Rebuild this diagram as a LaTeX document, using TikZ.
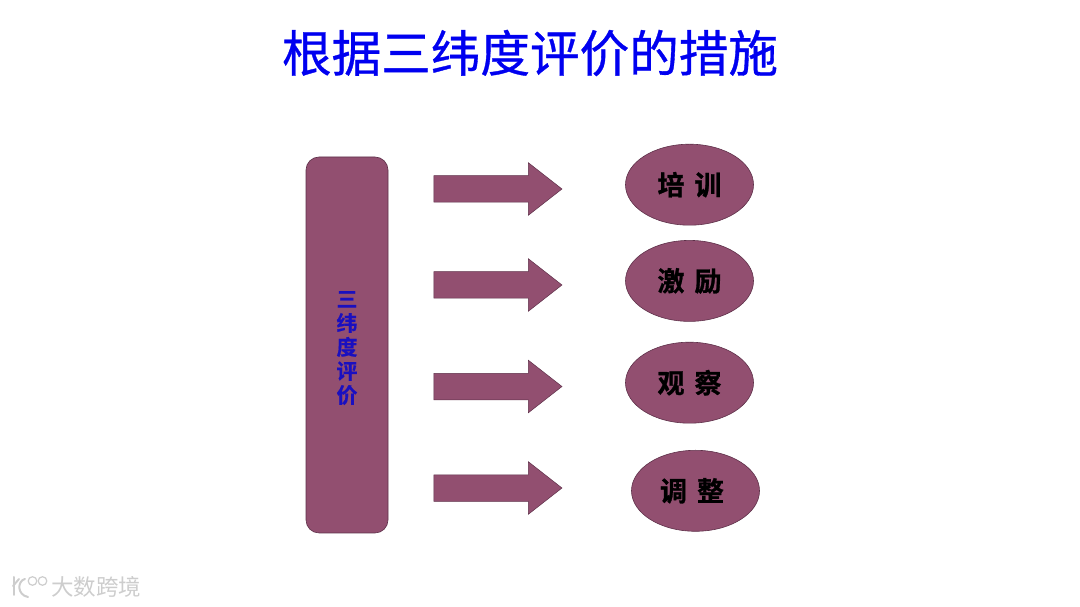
\documentclass[tikz,border=0pt]{standalone}
\usepackage{fontspec}
\setmainfont{Noto Sans CJK SC}[BoldFont={Noto Sans CJK SC Bold}]
\newfontfamily\heavycjk{Noto Sans CJK SC Bold}[FakeBold=0.5]
\newfontfamily\blackcjk{Noto Sans CJK SC Bold}[FakeBold=1]
\newfontfamily\titlecjk{Noto Sans CJK SC}[FakeBold=0.7]
\usetikzlibrary{arrows.meta,positioning,shapes.arrows,shapes.geometric}
\definecolor{plum}{HTML}{924F70}
\definecolor{plumedge}{HTML}{5E3049}
\definecolor{titleblue}{HTML}{0000F0}
\definecolor{sideblue}{HTML}{1A0FC0}
\definecolor{markgray}{HTML}{CDCDCD}
\begin{document}
\begin{tikzpicture}[
    x=1pt, y=1pt,
    sidebox/.style={draw=plumedge, fill=plum, rounded corners=13pt, line width=0.6pt, minimum width=82pt, minimum height=376pt, inner sep=0pt, align=center, text=sideblue, font=\fontsize{21}{24}\selectfont\heavycjk},
    blockarrow/.style={single arrow, draw=plumedge, fill=plum, line width=0.5pt, inner sep=0pt, minimum height=128pt, single arrow head extend=13pt, shape border rotate=0, single arrow tip angle=76, single arrow head indent=0pt},
    blob/.style={ellipse, draw=plumedge, fill=plum, line width=0.6pt, minimum width=128pt, minimum height=81pt, inner sep=0pt, font=\fontsize{27}{30}\selectfont\blackcjk}
]
\useasboundingbox (0,0) rectangle (1080,607);
\node[font=\fontsize{49.6}{56}\selectfont\titlecjk, text=titleblue] (title) at (530,554) {根据三纬度评价的措施};

\node[sidebox] (side) at (347,262) {\rule{0pt}{22pt}三\\纬\\度\\评\\价};

% arrows, top to bottom
\node[blockarrow] (arrow1) at (489.5,418) {\rule{0pt}{26pt}};
\node[blockarrow, below=69pt of arrow1] (arrow2) {\rule{0pt}{26pt}};
\node[blockarrow, below=74.5pt of arrow2] (arrow3) {\rule{0pt}{26pt}};
\node[blockarrow, below=74.5pt of arrow3] (arrow4) {\rule{0pt}{26pt}};

% measures
\node[blob] (train) at (689.5,422.3) {培\hspace{10pt}训};
\node[blob, below=14.6pt of train] (motivate) {激\hspace{10pt}励};
\node[blob, below=20.2pt of motivate] (observe) {观\hspace{10pt}察};
\node[blob, below=26.5pt of observe, xshift=6pt] (adjust) {调\hspace{10pt}整\hspace{7pt}\null};

% watermark
\node[font=\fontsize{22.5}{24}\selectfont, text=markgray] (mark) at (96,20) {大数跨境};
\draw[markgray, line width=2pt, line cap=round] (14,30) -- (14,12);
\draw[markgray, line width=2pt, line cap=round] (13,21) -- (19,28);
\draw[markgray, line width=2pt, line cap=round] (25,28) .. controls (17,26) and (17,12) .. (28,10);
\draw[markgray, line width=1.2pt] (32.5,26) circle (4.3pt);
\draw[markgray, line width=1.2pt] (42.5,26) circle (4.3pt);
\end{tikzpicture}
\end{document}
